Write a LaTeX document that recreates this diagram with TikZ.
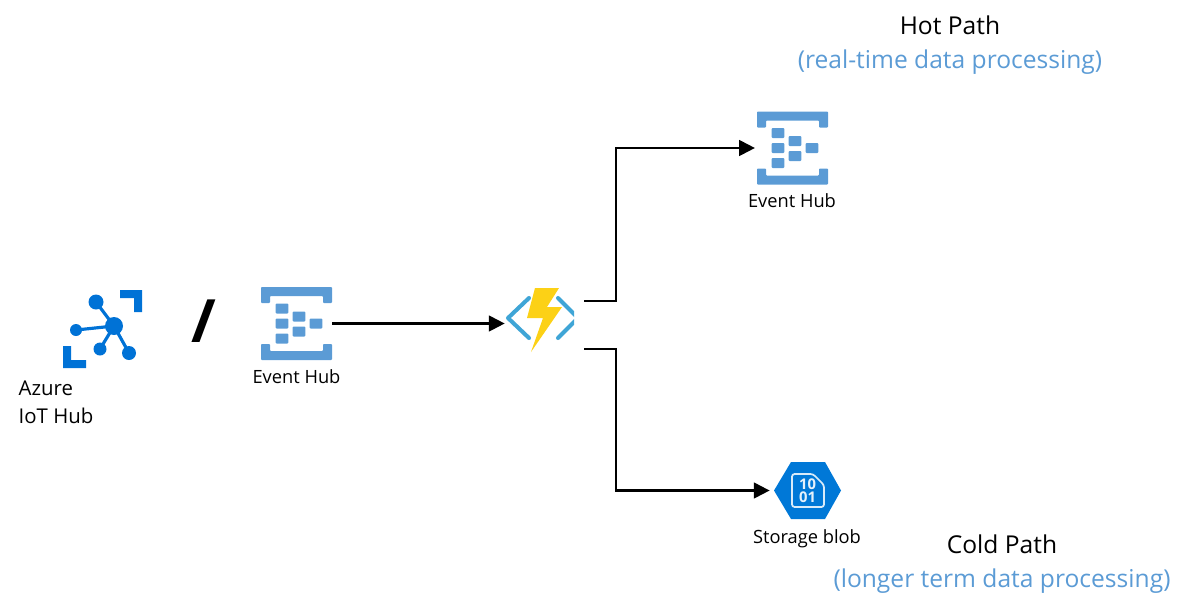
\documentclass[tikz,border=0pt]{standalone}
\usepackage{fontspec}
\setmainfont{Open Sans}
\usetikzlibrary{arrows.meta}
\definecolor{hubblue}{HTML}{5B9BD5}
\definecolor{iotblue}{HTML}{0072D6}
\definecolor{blobblue}{HTML}{0078D7}
\definecolor{funcblue}{HTML}{3FA5D6}
\definecolor{boltyellow}{HTML}{FCD116}
\tikzset{
  iconbox/.style={inner sep=0pt, minimum width=#1},
  iconbox/.default=1.42cm,
  pipe/.style={line width=1.2pt, -{Triangle[length=9pt, width=9pt]}},
  smalltext/.style={font=\fontsize{10.4}{12}\selectfont},
  bigtext/.style={font=\fontsize{14}{16}\selectfont},
  bluetext/.style={bigtext, text=hubblue},
  eventhub/.pic={
    \fill[hubblue, rounded corners=0.5pt] (-35.5,-36.5) -- (35.5,-36.5) -- (35.5,-20.5) -- (26.5,-20.5) -- (26.5,-27.5) -- (-26.5,-27.5) -- (-26.5,-20.5) -- (-35.5,-20.5) -- cycle;
    \fill[hubblue, rounded corners=0.5pt] (-35.5,36.5) -- (35.5,36.5) -- (35.5,20.5) -- (26.5,20.5) -- (26.5,27.5) -- (-26.5,27.5) -- (-26.5,20.5) -- (-35.5,20.5) -- cycle;
    \foreach \x/\y in {-14.5/-15, -14.5/0, -14.5/15, 2.5/-7, 2.5/8, 19.5/0}
      \fill[hubblue, rounded corners=0.5pt] (\x-6.3,\y-5) rectangle (\x+6.3,\y+5);
  }
}
\begin{document}
\begin{tikzpicture}[x=0.02cm, y=-0.02cm]
\useasboundingbox (0,0) rectangle (1185,609);

% iot hub icon
\begin{scope}[iotblue]
\fill (120,290) -- (142,290) -- (142,312) -- (134,312) -- (134,298) -- (120,298) -- cycle;
\fill (63,346) -- (71,346) -- (71,360) -- (86,360) -- (86,368) -- (63,368) -- cycle;
\draw[line width=1.8pt] (114,326) -- (96,302) (114,326) -- (76,330) (114,326) -- (100,349) (114,326) -- (129,353);
\fill (114,326) circle (9) (96,302) circle (7.5) (76,330) circle (6) (100,349) circle (6.5) (129,353) circle (7);
\end{scope}
\node[font=\fontsize{11.6}{15.9}\selectfont, align=left, anchor=west] (iotlabel) at (12.5,402) {Azure\\IoT Hub};
\node[font=\fontsize{34}{34}\bfseries\selectfont] (slash) at (204,321) {/};

% event hubs
\node[iconbox] (hubin) at (296.5,323.5) {};
\pic at (hubin) {eventhub};
\node[smalltext] (hubinlabel) at (296.5,377) {Event Hub};
\node[iconbox] (hubhot) at (792.5,148) {};
\pic at (hubhot) {eventhub};
\node[smalltext] (hubhotlabel) at (792,201) {Event Hub};

% function icon
\node[iconbox=1.58cm] (func) at (544.5,323.5) {};
\begin{scope}
\clip (500,280) rectangle (574,360);
\draw[funcblue, line width=2.3pt, line cap=round, line join=round] (529,298) -- (508,318) -- (529,338);
\draw[funcblue, line width=2.3pt, line cap=round, line join=round] (558,298) -- (578,318) -- (558,338);
\end{scope}
\fill[boltyellow] (535,288) -- (559,288) -- (547,307) -- (562,307) -- (531,352) -- (543,318) -- (527,318) -- cycle;

% storage icon
\node[iconbox=1.34cm] (blob) at (807.5,490.5) {};
\fill[blobblue] (774,490.5) -- (791,462) -- (825,462) -- (841,490.5) -- (825,519) -- (791,519) -- cycle;
\draw[white!85!blobblue, line width=1pt, rounded corners=1.5pt] (813,474) -- (792,474) -- (792,507) -- (824,507) -- (824,485) -- cycle;
\node[text=white!90!blobblue, font=\fontsize{8.4}{8.4}\bfseries\selectfont] (blobtop) at (807.5,484) {10};
\node[text=white!90!blobblue, font=\fontsize{8.4}{8.4}\bfseries\selectfont] (blobbottom) at (807.5,497) {01};
\node[smalltext] (bloblabel) at (807,539) {Storage blob};

\coordinate (hotout) at (584,301);
\coordinate (coldout) at (584,349);
\draw[pipe] (hubin.east) -- (func.west);
\draw[pipe, shorten >=1pt] (hotout) -- (616,301) -- (616,148) -- (hubhot.west);
\draw[pipe, shorten >=2.3pt] (coldout) -- (616,349) -- (616,490.5) -- (blob.west);

\node[bigtext] (hottitle) at (950,25) {Hot Path};
\node[bluetext] (hotnote) at (950,62) {(real-time data processing)};
\node[bigtext] (coldtitle) at (1002,544) {Cold Path};
\node[bluetext] (coldnote) at (1002,581) {(longer term data processing)};
\end{tikzpicture}
\end{document}
